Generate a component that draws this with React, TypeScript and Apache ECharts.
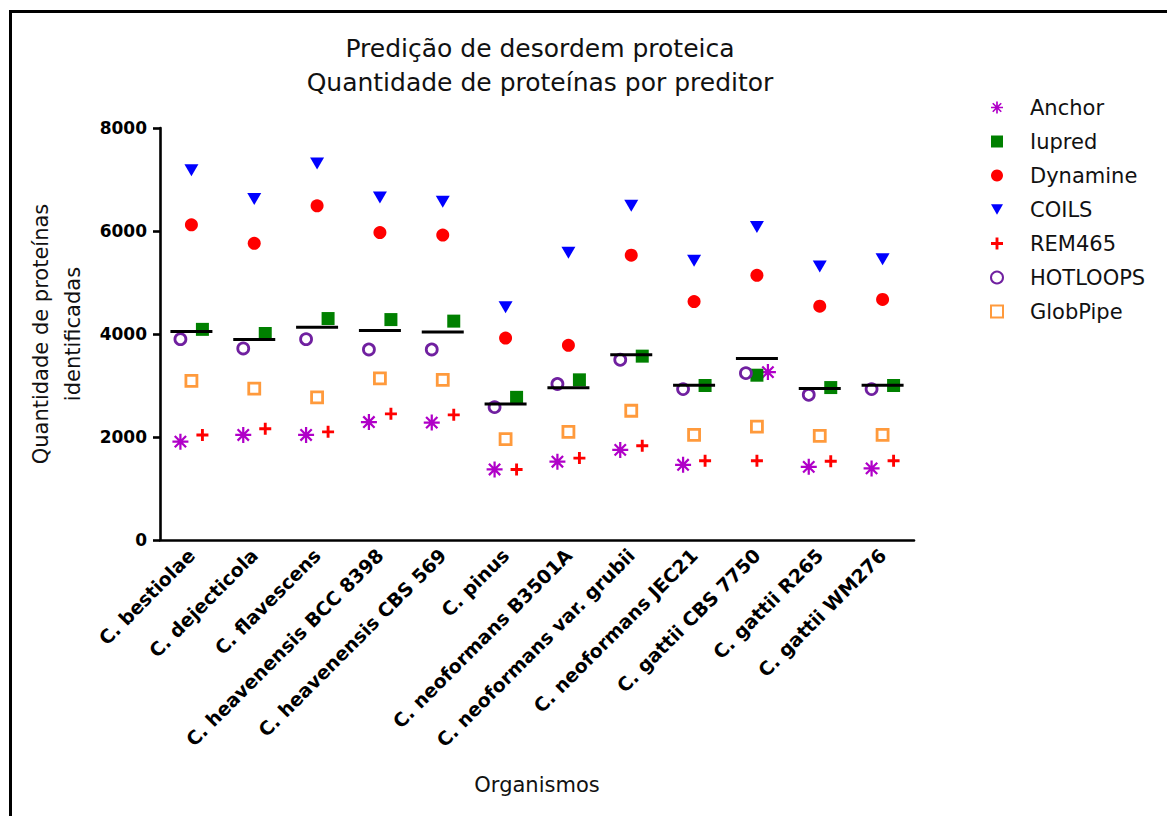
import React, { useEffect, useRef } from "react";
import * as echarts from "echarts";

// Organisms (x categories)
const categories = [
  "C. bestiolae",
  "C. dejecticola",
  "C. flavescens",
  "C. heavenensis BCC 8398",
  "C. heavenensis CBS 569",
  "C. pinus",
  "C. neoformans B3501A",
  "C. neoformans var. grubii",
  "C. neoformans JEC21",
  "C. gattii CBS 7750",
  "C. gattii R265",
  "C. gattii WM276",
];

// Number of proteins identified by each predictor
const anchor = [1910, 2040, 2040, 2290, 2280, 1370, 1520, 1750, 1460, 3260, 1420, 1390];
const iupred = [4090, 4010, 4300, 4280, 4250, 2770, 3110, 3570, 3000, 3200, 2960, 3000];
const dynamine = [6120, 5760, 6490, 5970, 5920, 3920, 3780, 5530, 4630, 5140, 4540, 4670];
const coils = [7180, 6620, 7310, 6650, 6570, 4520, 5580, 6490, 5420, 6080, 5310, 5450];
const rem465 = [2040, 2160, 2100, 2450, 2430, 1370, 1590, 1830, 1540, 1540, 1530, 1540];
const hotloops = [3900, 3720, 3900, 3700, 3700, 2580, 3030, 3500, 2930, 3240, 2820, 2930];
const globpipe = [3090, 2940, 2770, 3140, 3110, 1960, 2100, 2510, 2040, 2200, 2020, 2040];

const yTicks = [0, 2000, 4000, 6000, 8000];

const FONT = "DejaVu Sans";

// Filled outlines for the asterisk, plus and downward triangle markers
const ASTERISK =
  "path://M43 0 L57 0 L57 100 L43 100 Z M0 43 L100 43 L100 57 L0 57 Z " +
  "M19.6 9.7 L90.3 80.4 L80.4 90.3 L9.7 19.6 Z " +
  "M80.4 9.7 L90.3 19.6 L19.6 90.3 L9.7 80.4 Z";
const PLUS = "path://M38 0 L62 0 L62 100 L38 100 Z M0 38 L100 38 L100 62 L0 62 Z";
const TRI_DOWN = "path://M0 0 L100 0 L50 86 Z";

// Horizontal slot (left / centre / right) of each predictor inside a column,
// so that points with close values do not hide each other.
const SLOT_PX = 11;
const defaultSlot: Record<string, number> = {
  Anchor: -1,
  Iupred: 1,
  Dynamine: 0,
  COILS: 0,
  REM465: 1,
  HOTLOOPS: -1,
  GlobPipe: 0,
};
const slotOverride: Record<number, Record<string, number>> = {
  9: { Anchor: 1, Iupred: 0, REM465: 0 },
};

type Spec = {
  name: string;
  values: number[];
  symbol: string;
  size: number | number[];
  color: string;
  hollow?: boolean;
};

const specs: Spec[] = [
  { name: "Anchor", values: anchor, symbol: ASTERISK, size: 16, color: "#b000c8" },
  { name: "Iupred", values: iupred, symbol: "rect", size: 13, color: "#008000" },
  { name: "Dynamine", values: dynamine, symbol: "circle", size: 13, color: "#ff0000" },
  { name: "COILS", values: coils, symbol: TRI_DOWN, size: [14, 12], color: "#0000ff" },
  { name: "REM465", values: rem465, symbol: PLUS, size: 12, color: "#ff0000" },
  { name: "HOTLOOPS", values: hotloops, symbol: "circle", size: 11, color: "#7020a0", hollow: true },
  { name: "GlobPipe", values: globpipe, symbol: "rect", size: 11, color: "#ff9a3c", hollow: true },
];

const slotFor = (name: string, i: number) => {
  const o = slotOverride[i];
  if (o && o[name] !== undefined) return o[name];
  return defaultSlot[name];
};

export default function App() {
  const ref = useRef<HTMLDivElement>(null);

  useEffect(() => {
    if (!ref.current) return;
    const chart = echarts.init(ref.current, undefined, { renderer: "svg" });

    const means = categories.map(
      (_, i) => specs.reduce((s, sp) => s + sp.values[i], 0) / specs.length
    );

    const pointSeries = specs.map((sp) => ({
      name: sp.name,
      type: "scatter",
      symbol: sp.symbol,
      symbolSize: sp.size,
      itemStyle: sp.hollow
        ? { color: "#ffffff", borderColor: sp.color, borderWidth: 2.8, opacity: 1 }
        : { color: sp.color, opacity: 1 },
      data: sp.values.map((v, i) => ({
        value: v,
        symbolOffset: [slotFor(sp.name, i) * SLOT_PX, 0],
      })),
      z: 3,
    }));

    chart.setOption({
      animation: false,
      backgroundColor: "#ffffff",
      textStyle: { fontFamily: FONT },
      grid: { left: 160, right: 253, top: 128, bottom: 276, containLabel: false },
      legend: {
        orient: "vertical",
        left: 985,
        top: 92,
        itemWidth: 12,
        itemHeight: 12,
        itemGap: 13,
        data: specs.map((s) => ({ name: s.name, icon: s.symbol })),
        itemStyle: { opacity: 1 },
        textStyle: {
          fontFamily: FONT,
          fontSize: 21,
          lineHeight: 21,
          color: "#111",
          padding: [0, 0, 0, 22],
        },
      },
      xAxis: {
        type: "category",
        data: categories,
        boundaryGap: true,
        name: "Organismos",
        nameLocation: "middle",
        nameGap: 234,
        nameTextStyle: { fontFamily: FONT, fontSize: 21, color: "#111" },
        axisLine: { lineStyle: { color: "#000", width: 2.6 } },
        axisTick: { alignWithLabel: true, length: 7, lineStyle: { color: "#000", width: 2.6 } },
        axisLabel: {
          rotate: 45,
          interval: 0,
          margin: 12,
          fontFamily: FONT,
          fontWeight: "bold",
          fontSize: 19,
          color: "#000",
        },
        splitLine: { show: false },
      },
      yAxis: {
        type: "value",
        min: yTicks[0],
        max: yTicks[yTicks.length - 1],
        interval: yTicks[1] - yTicks[0],
        name: "Quantidade de proteínas\nidentificadas",
        nameLocation: "middle",
        nameGap: 49,
        nameRotate: 90,
        nameTextStyle: { fontFamily: FONT, fontSize: 21, lineHeight: 32, color: "#111", align: "center" },
        axisLine: { show: true, lineStyle: { color: "#000", width: 2.6 } },
        axisTick: { show: true, length: 7, lineStyle: { color: "#000", width: 2.6 } },
        axisLabel: {
          margin: 13,
          fontFamily: FONT,
          fontWeight: "bold",
          fontSize: 17,
          color: "#000",
          formatter: (v: number) => String(v),
        },
        splitLine: { show: false },
      },
      graphic: [
        {
          type: "text",
          x: 540,
          y: 65,
          style: {
            text: "Predição de desordem proteica\nQuantidade de proteínas por preditor",
            fontFamily: FONT,
            fontSize: 25,
            lineHeight: 34,
            fill: "#111",
            align: "center",
            verticalAlign: "middle",
          },
        },
        {
          type: "polyline",
          shape: { points: [[10.5, 816], [10.5, 11.5], [1167, 11.5]] },
          style: { stroke: "#000", lineWidth: 3, fill: "none" },
        },
      ],
      series: [
        ...pointSeries,
        {
          name: "Média",
          type: "scatter",
          symbol: "rect",
          symbolSize: [42, 3],
          itemStyle: { color: "#000", opacity: 1 },
          data: means,
          silent: true,
          z: 4,
        },
      ],
    });

    return () => chart.dispose();
  }, []);

  return (
    <div
      ref={ref}
      style={{ position: "absolute", left: 0, top: 0, width: 1167, height: 816, background: "#fff" }}
    />
  );
}
